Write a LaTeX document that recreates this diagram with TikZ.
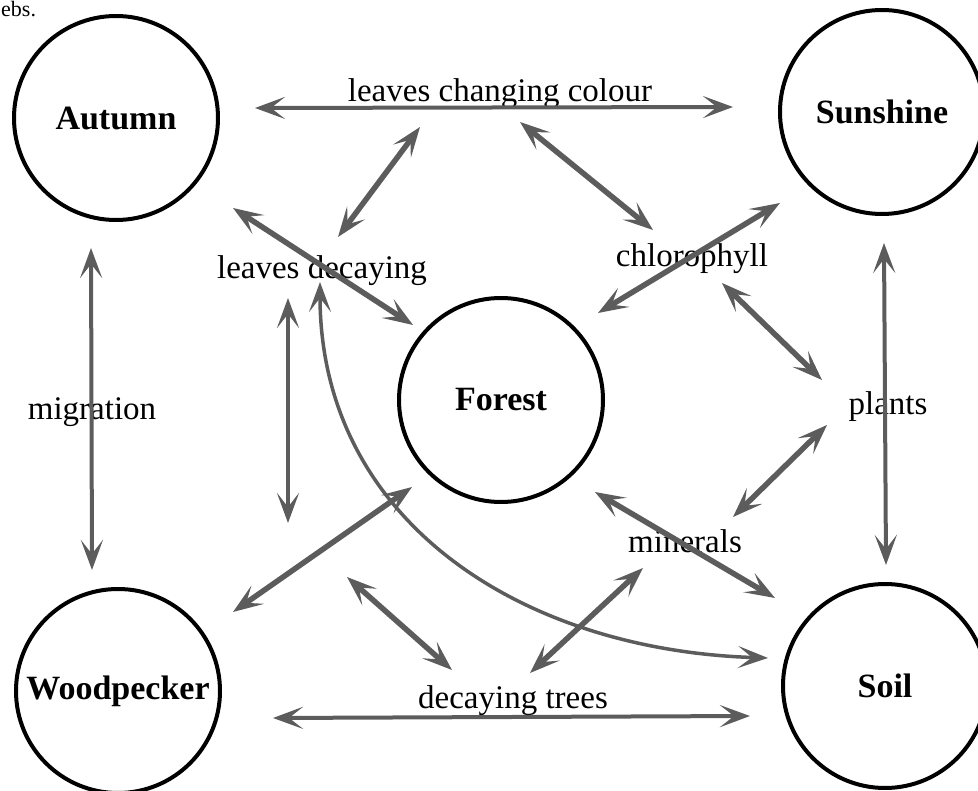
\documentclass[tikz,border=0pt]{standalone}
\usepackage{fontspec}
\setmainfont{Liberation Serif}
\usetikzlibrary{arrows.meta}
\definecolor{arrowgray}{gray}{0.36}
\begin{document}
\begin{tikzpicture}[x=1pt,y=-1pt,
  circ/.style={circle, draw=black, line width=4pt, minimum size=204pt, inner sep=0pt,
    font=\bfseries\fontsize{34}{40}\selectfont},
  lab/.style={anchor=base, inner sep=0pt, font=\fontsize{33}{40}\selectfont},
  tip/.tip={Stealth[length=30pt,width=22pt,inset=14pt]},
  dbl/.style={draw=arrowgray, line width=5.5pt, tip-tip},
  dblthin/.style={draw=arrowgray, line width=4pt, tip-tip},
  dblcurve/.style={draw=arrowgray, line width=3.5pt, tip-tip}]
\useasboundingbox (0,0) rectangle (978,791);

% circles
\node[circ] (autumn) at (116,118) {Autumn};
\node[circ] (sunshine) at (882,112) {Sunshine};
\node[circ] (forest) at (501,400) {Forest};
\node[circ] (woodpecker) at (118,691) {Woodpecker};
\node[circ] (soil) at (885,686) {Soil};

% labels
\node[anchor=base west, inner sep=0pt, font=\fontsize{22}{26}\selectfont] (ebs) at (1,17) {ebs.};
\node[lab] (lcc) at (500,102) {leaves changing colour};
\node[lab] (ldec) at (322,279) {leaves decaying};
\node[lab] (chl) at (692,267) {chlorophyll};
\node[lab] (mig) at (92,420) {migration};
\node[lab] (plants) at (888,415) {plants};
\node[lab] (min) at (685,553) {minerals};
\node[lab] (dtr) at (513,708) {decaying trees};

% connector end points
\coordinate (a1) at (255,108);  \coordinate (b1) at (733,107);
\coordinate (a2) at (420,127);  \coordinate (b2) at (338,237);
\coordinate (a3) at (520,122);  \coordinate (b3) at (653,230);
\coordinate (a4) at (233,208);  \coordinate (b4) at (413,325);
\coordinate (a5) at (780,203);  \coordinate (b5) at (598,313);
\coordinate (a6) at (722,283);  \coordinate (b6) at (822,380);
\coordinate (a7) at (884,243);  \coordinate (b7) at (886,565);
\coordinate (a8) at (827,425);  \coordinate (b8) at (733,517);
\coordinate (a9) at (595,492);  \coordinate (b9) at (775,598);
\coordinate (a10) at (643,568); \coordinate (b10) at (530,673);
\coordinate (a11) at (320,282); \coordinate (b11) at (768,658);
\coordinate (a12) at (288,298); \coordinate (b12) at (288,523);
\coordinate (a13) at (412,487); \coordinate (b13) at (233,612);
\coordinate (a14) at (91,248);  \coordinate (b14) at (92,570);
\coordinate (a15) at (347,577); \coordinate (b15) at (452,670);
\coordinate (a16) at (273,718); \coordinate (b16) at (750,716);

% connectors
\draw[dblthin] (a1) -- (b1);
\draw[dbl] (a2) -- (b2);
\draw[dbl] (a3) -- (b3);
\draw[dbl] (a4) -- (b4);
\draw[dbl] (a5) -- (b5);
\draw[dbl] (a6) -- (b6);
\draw[dblthin] (a7) -- (b7);
\draw[dbl] (a8) -- (b8);
\draw[dbl] (a9) -- (b9);
\draw[dbl] (a10) -- (b10);
\draw[dblcurve] (a11) .. controls (320,520) and (520,650) .. (b11);
\draw[dblthin] (a12) -- (b12);
\draw[dbl] (a13) -- (b13);
\draw[dblthin] (a14) -- (b14);
\draw[dbl] (a15) -- (b15);
\draw[dblthin] (a16) -- (b16);
\end{tikzpicture}
\end{document}
